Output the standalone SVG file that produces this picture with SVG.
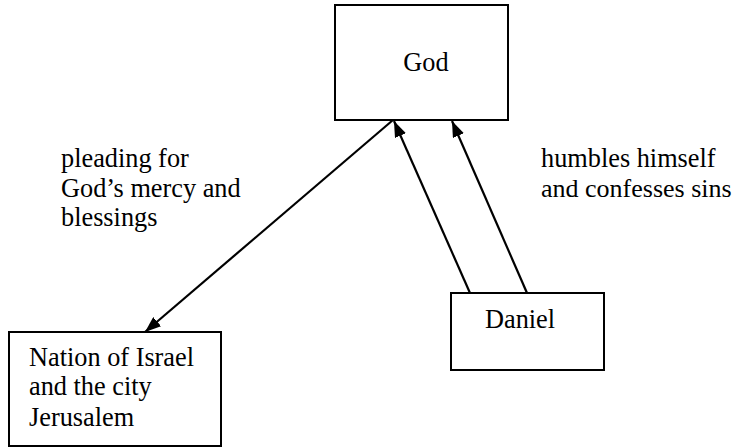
<svg xmlns="http://www.w3.org/2000/svg" width="735" height="447" viewBox="0 0 735 447">
<style>
.box{fill:#fff;stroke:#000;stroke-width:2}
.c{stroke:#000;stroke-width:2.2;fill:none;marker-end:url(#ah)}
</style>
<defs>
<marker id="ah" viewBox="0 0 16 12" refX="16" refY="6" markerWidth="16" markerHeight="12" markerUnits="userSpaceOnUse" orient="auto">
<path d="M0,0 L16,6 L0,12 z" fill="#000"/>
</marker>
</defs>
<rect width="735" height="447" fill="#fff"/>
<g font-family="'Liberation Serif', 'Times New Roman', Tinos, 'DejaVu Serif', serif" font-size="26.3" fill="#000">
<g id="god">
<rect class="box" x="335" y="5" width="173" height="115"/>
<text x="426" y="71" text-anchor="middle">God</text>
</g>
<g id="daniel">
<rect class="box" x="451" y="293" width="153" height="77"/>
<text x="485" y="328">Daniel</text>
</g>
<g id="nation">
<rect class="box" x="9" y="332" width="212" height="114"/>
<text x="29" y="366">Nation of Israel</text>
<text x="29" y="395">and the city</text>
<text x="29" y="426">Jerusalem</text>
</g>
<g id="connectors">
<line class="c" x1="393" y1="120" x2="145" y2="332"/>
<line class="c" x1="470" y1="293" x2="394" y2="121"/>
<line class="c" x1="527" y1="293" x2="452" y2="121"/>
</g>
<g id="labels">
<text x="61" y="167">pleading for</text>
<text x="61" y="197">God’s mercy and</text>
<text x="61" y="226">blessings</text>
<text x="541" y="167">humbles himself</text>
<text x="541" y="197" font-size="26">and confesses sins</text>
</g>
</g>
</svg>
